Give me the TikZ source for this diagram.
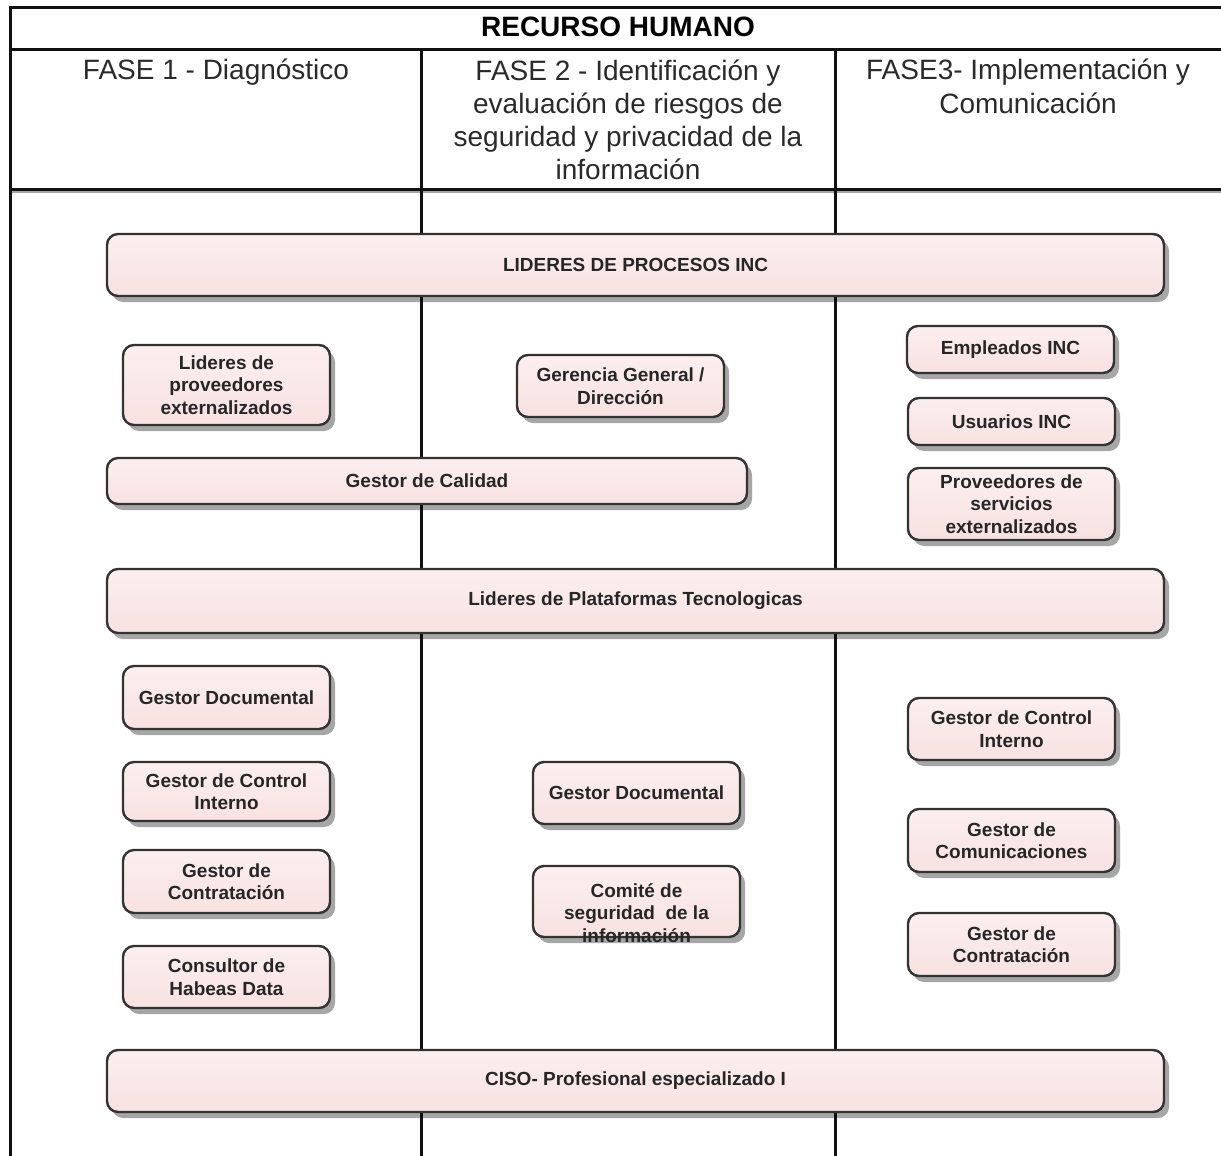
\documentclass[tikz,border=0pt]{standalone}
\usepackage{fontspec}
\setmainfont{Liberation Sans}
\usetikzlibrary{shadows}

\definecolor{frameline}{HTML}{111111}
\definecolor{boxline}{HTML}{333333}
\definecolor{boxtop}{HTML}{FCEFEF}
\definecolor{boxbot}{HTML}{F8E1E1}
\definecolor{boxtext}{HTML}{262626}
\definecolor{headtext}{HTML}{2A2A2A}

\tikzset{
  frame/.style={draw=frameline, line width=3pt},
  roleshape/.style={draw=boxline, line width=2.4pt, rounded corners=11pt,
    top color=boxtop, bottom color=boxbot,
    drop shadow={shadow xshift=5pt, shadow yshift=-6pt, fill=black, opacity=0.35},
    inner sep=0pt},
  rolelabel/.style={align=center, inner sep=0pt, text=boxtext,
    font=\fontsize{19}{22.5}\selectfont\bfseries},
  % anchored at the baseline of the last line
  phase/.style={align=center, anchor=base, inner sep=0pt, text=headtext,
    font=\fontsize{28}{33}\selectfont},
}

% \rolebox{name}{x1}{y1}{x2}{y2}{label}: rounded, shadowed role box
\newcommand\rolebox[6]{%
  \node[roleshape, rolelabel, minimum width={(#4-#2)*1pt}, minimum height={(#5-#3)*1pt}]
    (#1) at ({(#2+#4)/2},{(#3+#5)/2}) {#6};}

\begin{document}
\begin{tikzpicture}[x=1pt,y=-1pt]
  \useasboundingbox[fill=white] (0,0) rectangle (1221,1156);

  % table frame
  \draw[frame] (10,8) -- (1221,8);
  \draw[frame] (10,50) -- (1221,50);
  \draw[draw=gray!70, line width=2pt] (10,192) -- (1221,192);
  \draw[frame] (10,189) -- (1221,189);
  \draw[frame] (10,6.5) -- (10,1156);
  \draw[frame] (421,50) -- (421,1156);
  \draw[frame] (835,50) -- (835,1156);

  % headings
  \node[anchor=base, inner sep=0pt, text=black, font=\fontsize{28}{33}\selectfont\bfseries]
    (title) at (618,37) {RECURSO HUMANO};
  \node[phase] (fase1) at (216,80) {FASE 1 - Diagnóstico};
  \node[phase] (fase2) at (628,179) {FASE 2 - Identificación y\\evaluación de riesgos de\\seguridad y privacidad de la\\información};
  \node[phase] (fase3) at (1028,113) {FASE3- Implementación y\\Comunicación};

  % role boxes
  \rolebox{lideresproc}{107}{234}{1164}{296}{LIDERES DE PROCESOS INC}
  \rolebox{lideresprov}{123}{345}{330}{425}{Lideres de\\proveedores\\externalizados}
  \rolebox{gerencia}{517}{355}{724}{417}{Gerencia General /\\Dirección}
  \rolebox{calidad}{107}{458}{747}{504}{Gestor de Calidad}
  \rolebox{empleados}{907}{326}{1114}{373}{Empleados INC}
  \rolebox{usuarios}{908}{398}{1115}{445}{Usuarios INC}
  \rolebox{proveedores}{908}{468}{1115}{540}{Proveedores de\\servicios\\externalizados}
  \rolebox{plataformas}{107}{569}{1164}{633}{Lideres de Plataformas Tecnologicas}

  \rolebox{docizq}{123}{666}{330}{729}{Gestor Documental}
  \rolebox{controlizq}{123}{762}{330}{821}{Gestor de Control\\Interno}
  \rolebox{contratizq}{123}{850}{330}{913}{Gestor de\\Contratación}
  \rolebox{habeas}{123}{946}{330}{1008}{Consultor de\\Habeas Data}

  \rolebox{doccentro}{533}{762}{740}{824}{Gestor Documental}
  \rolebox{comite}{533}{866}{740}{937}{}
  \node[rolelabel] (comitelabel) at (636.5,913) {Comité de\\seguridad\ \ de la\\información};

  \rolebox{controlder}{908}{698}{1115}{760}{Gestor de Control\\Interno}
  \rolebox{comunicaciones}{908}{809}{1115}{872}{Gestor de\\Comunicaciones}
  \rolebox{contratder}{908}{913}{1115}{976}{Gestor de\\Contratación}

  \rolebox{ciso}{107}{1050}{1164}{1112}{CISO- Profesional especializado I}
\end{tikzpicture}
\end{document}
